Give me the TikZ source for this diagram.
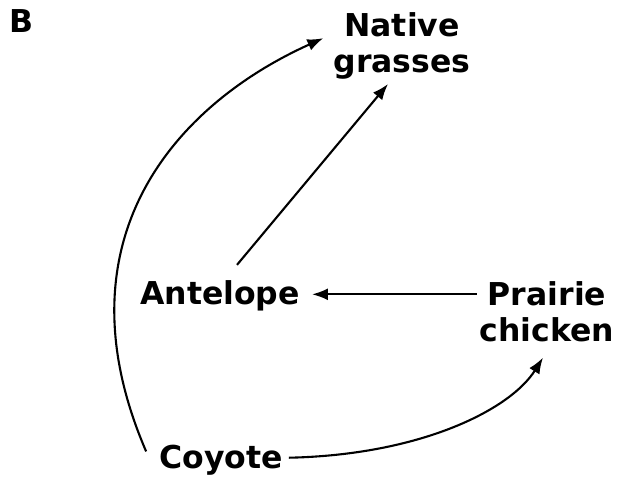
\documentclass[tikz,border=0pt]{standalone}
\usepackage{fontspec}
\setmainfont{DejaVu Sans}
\usetikzlibrary{arrows.meta,calc}
\begin{document}
\begin{tikzpicture}[x=1pt,y=-1pt,
  lbl/.style={font=\bfseries\fontsize{31.5}{36.5}\selectfont, inner sep=0pt, align=center},
  arr/.style={line width=2.1pt, -{Latex[length=16pt,width=12pt]}}]
\useasboundingbox (0,0) rectangle (619,478);
\node[lbl, anchor=base] (B) at (22,33) {B};
\node[lbl, anchor=base] (ng) at (402,73) {Native\\grasses};
\node[lbl, anchor=base] (ant) at (220,305) {Antelope};
\node[lbl, anchor=base] (pc) at (547,342) {Prairie\\chicken};
\node[lbl, anchor=base] (coy) at (221,468) {Coyote};
% Antelope -> Native grasses
\draw[arr] ($(ant.north)+(17,-16)$) -- ($(ng.south)+(-14,4)$);
% Prairie chicken -> Antelope
\draw[arr] ($(pc.west |- ant.center)+(-3,-2)$) -- ($(ant.east |- ant.center)+(12,-2)$);
% Coyote -> Native grasses
\draw[arr] ($(coy.north west)+(-13,7)$) .. controls (55,240) and (175,105) .. ($(ng.west)+(-10,-8)$);
% Coyote -> Prairie chicken
\draw[arr] ($(coy.east)+(6,-2)$) .. controls (420,455) and (510,410) .. ($(pc.south)+(-4,15)$);
\end{tikzpicture}
\end{document}
